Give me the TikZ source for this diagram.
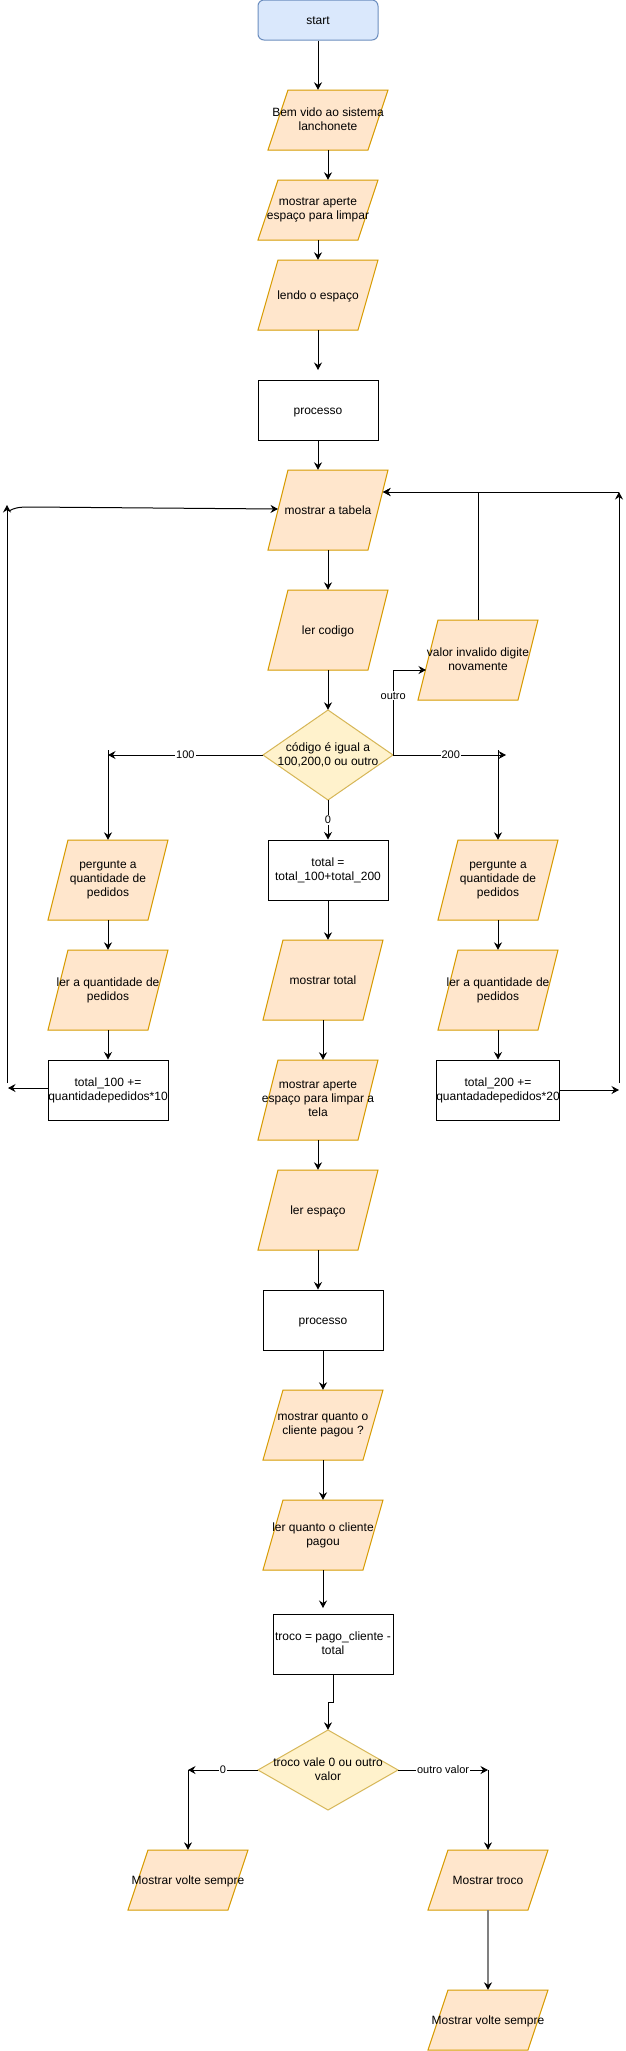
\documentclass[tikz,border=0pt]{standalone}
\usepackage{fontspec}
\setmainfont{Liberation Sans}
\usetikzlibrary{arrows.meta,calc}
\definecolor{ioF}{HTML}{FFE6CC}
\definecolor{ioD}{HTML}{D79B00}
\definecolor{decF}{HTML}{FFF2CC}
\definecolor{decD}{HTML}{D6B656}
\definecolor{stF}{HTML}{DAE8FC}
\definecolor{stD}{HTML}{6C8EBF}
\definecolor{grayline}{HTML}{808080}
\newcommand{\tstrut}{\rule[-2pt]{0pt}{13pt}}
\tikzset{
  txt/.style={align=center,font=\fontsize{12}{14}\selectfont,execute at begin node=\tstrut,execute at end node=\tstrut},
  iopoly/.style={fill=ioF,draw=ioD,line width=1pt},
  iotext/.style={txt,rectangle,minimum width=120pt,inner sep=0pt},
  decpoly/.style={fill=decF,draw=decD,line width=1pt},
  dectext/.style={txt,rectangle,inner sep=0pt},
  procbox/.style={txt,rectangle,draw=black,fill=white,line width=1pt,minimum width=120pt,minimum height=60pt,inner sep=0pt},
  startbox/.style={txt,rectangle,rounded corners=6pt,draw=stD,fill=stF,line width=1pt,minimum width=120pt,minimum height=40pt,inner sep=0pt},
  arr/.style={draw=black,line width=1pt,-{Stealth[length=7.5pt,width=8pt,inset=2.5pt,color=black]}},
  lbl/.style={fill=white,inner sep=1pt,font=\fontsize{11}{13}\selectfont},
}
\newcommand{\ioshape}[5]{%
  \filldraw[iopoly,shift={(#2,#3)}] (-40,{-#4/2}) -- (60,{-#4/2}) -- (40,{#4/2}) -- (-60,{#4/2}) -- cycle;
  \node[iotext,minimum height=#4pt] (#1) at (#2,#3) {#5};
}
\newcommand{\decshape}[6]{%
  \filldraw[decpoly,shift={(#2,#3)}] ({-#4/2},0) -- (0,{-#5/2}) -- ({#4/2},0) -- (0,{#5/2}) -- cycle;
  \node[dectext,minimum width=#4pt,minimum height=#5pt] (#1) at (#2,#3) {#6};
}
\begin{document}
\begin{tikzpicture}[x=1pt,y=-1pt]
\useasboundingbox[fill=white] (0,0) rectangle (626,2051);

% main column
\node[startbox] (start) at (318,20) {start};
\ioshape{bem}{328}{120}{60}{Bem vido ao sistema\\lanchonete}
\ioshape{aperte}{318}{210}{60}{mostrar aperte\\espaço para limpar}
\ioshape{lendo}{318}{295}{70}{lendo o espaço}
\node[procbox] (proc1) at (318,410) {processo};
\ioshape{tabela}{328}{510}{80}{mostrar a tabela}
\ioshape{lercod}{328}{630}{80}{ler codigo}
\decshape{dia}{328}{755}{130}{90}{código é igual a\\100,200,0 ou outro}
\ioshape{valor}{478}{660}{80}{valor invalido digite\\novamente}

% left column
\ioshape{per1}{108}{880}{80}{pergunte a\\quantidade de\\pedidos}
\ioshape{ler1}{108}{990}{80}{ler a quantidade de\\pedidos}
\node[procbox] (t100) at (108,1090) {total\_100 +=\\quantidadepedidos*10};

% right column
\ioshape{per2}{498}{880}{80}{pergunte a\\quantidade de\\pedidos}
\ioshape{ler2}{498}{990}{80}{ler a quantidade de\\pedidos}
\node[procbox] (t200) at (498,1090) {total\_200 +=\\quantadadepedidos*20};

% center column
\node[procbox] (total) at (328,870) {total =\\total\_100+total\_200};
\ioshape{mtotal}{323}{980}{80}{mostrar total}
\ioshape{tela}{318}{1100}{80}{mostrar aperte\\espaço para limpar a\\tela}
\ioshape{lesp}{318}{1210}{80}{ler espaço}
\node[procbox] (proc2) at (323,1320) {processo};
\ioshape{mq}{323}{1425}{70}{mostrar quanto o\\cliente pagou ?}
\ioshape{lq}{323}{1535}{70}{ler quanto o cliente\\pagou}
\node[procbox] (troco) at (333,1644) {troco = pago\_cliente -\\total};
\decshape{dia2}{328}{1770}{140}{80}{troco vale 0 ou outro\\valor}
\ioshape{mvs1}{188}{1880}{60}{Mostrar volte sempre}
\ioshape{mtroco}{488}{1880}{60}{Mostrar troco}
\ioshape{mvs2}{488}{2020}{60}{Mostrar volte sempre}

% free ends
\coordinate (g1) at (318,370);
\coordinate (g2) at (323,1608);
\coordinate (b100) at (108,755);
\coordinate (v100) at (108,750);
\coordinate (b200) at (506,755);
\coordinate (v200) at (498,750);
\coordinate (valW) at (426,670);
\coordinate (tabW) at (278,509);
\coordinate (tabE) at (383,492);
\coordinate (L0) at (8,1088);
\coordinate (L1) at (7,1083);
\coordinate (L2) at (7,505);
\coordinate (L3) at (9,511);
\coordinate (R0) at (619,1090);
\coordinate (R1) at (619,1083);
\coordinate (R2) at (619,492);
\coordinate (tk) at (333,1702);
\coordinate (b0) at (188,1770);
\coordinate (bov) at (488,1770);

% connectors
\draw[arr] (start.south) -- (start.south |- bem.north);
\draw[arr] (bem.south) -- (bem.south |- aperte.north);
\draw[arr] (aperte.south) -- (lendo.north);
\draw[arr] (lendo.south) -- (g1);
\draw[arr] (proc1.south) -- (proc1.south |- tabela.north);
\draw[arr] (tabela.south) -- (lercod.north);
\draw[arr] (lercod.south) -- (dia.north);
\draw[arr] (dia.west) -- node[lbl]{100} (b100);
\draw[arr] (v100) -- (per1.north);
\draw[arr] (dia.east) -- node[lbl,pos=0.51]{200} (b200);
\draw[arr] (v200) -- (per2.north);
\draw[arr] (dia.east) -- node[lbl,pos=0.7]{outro} (dia.east |- valW) -- (valW);
\draw[arr] (dia.south) -- node[lbl]{0} (total.north);
\draw[arr] (valor.north) -- (valor.north |- tabE) -- (tabE);
\draw[arr] (per1.south) -- (ler1.north);
\draw[arr] (ler1.south) -- (t100.north);
\draw[arr] (per2.south) -- (ler2.north);
\draw[arr] (ler2.south) -- (t200.north);
\draw[arr] (t100.west |- L0) -- (L0);
\draw[arr] (L1) -- (L2);
\draw[arr] (L3) .. controls (14,508) and (18,507) .. (30,507) -- (tabW);
\draw[arr] (t200.east) -- (R0);
\draw[arr] (R1) -- (R2);
\draw[arr] (R2) -- (tabE);
\draw[arr] (total.south) -- (total.south |- mtotal.north);
\draw[arr] (mtotal.south) -- (mtotal.south |- tela.north);
\draw[arr] (tela.south) -- (lesp.north);
\draw[arr] (lesp.south) -- (lesp.south |- proc2.north);
\draw[arr] (proc2.south) -- (mq.north);
\draw[arr] (mq.south) -- (lq.north);
\draw[arr] (lq.south) -- (g2);
\draw[arr] (troco.south) -- (tk) -- (tk -| dia2.north) -- (dia2.north);
\draw[arr] (dia2.west) -- node[lbl]{0} (b0);
\draw[arr] (b0) -- (mvs1.north);
\draw[arr] (dia2.east) -- node[lbl]{outro valor} (bov);
\draw[arr] (bov) -- (mtroco.north);
\draw[arr,draw=grayline,line width=1.3pt] (mtroco.south) -- (mvs2.north);
\end{tikzpicture}
\end{document}
